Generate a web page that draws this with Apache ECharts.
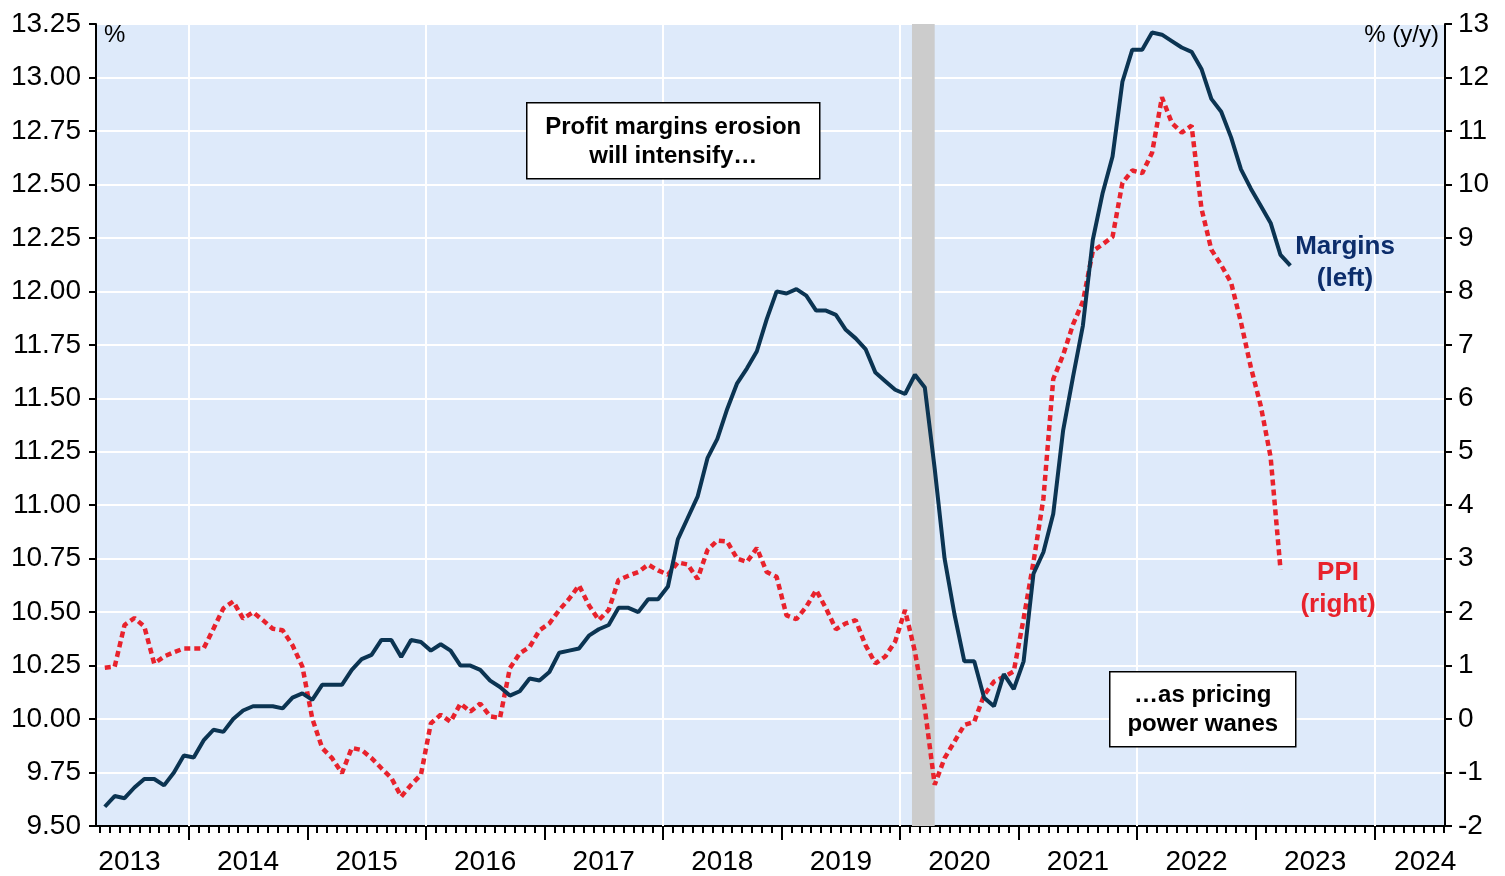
<!DOCTYPE html>
<html>
<head>
<meta charset="utf-8">
<script src="https://cdn.jsdelivr.net/npm/echarts@6/dist/echarts.min.js"></script>
<style>
  html, body { margin: 0; padding: 0; background: #fff; }
  #main { width: 1505px; height: 876px; }
</style>
</head>
<body>
<div id="main"></div>
<script>
// monthly observations, first one is Apr 2013 (month index 3, Jan 2013 = 0)
const firstMonth = 3

// profit margins, % (left axis)
const margins = [
  9.59, 9.64, 9.63, 9.68, 9.72, 9.72, 9.69, 9.75, 9.83,
  9.82, 9.90, 9.95, 9.94, 10.00, 10.04, 10.06, 10.06, 10.06, 10.05, 10.10, 10.12,
  10.09, 10.16, 10.16, 10.16, 10.23, 10.28, 10.30, 10.37, 10.37, 10.29, 10.37, 10.36,
  10.32, 10.35, 10.32, 10.25, 10.25, 10.23, 10.18, 10.15, 10.11, 10.13, 10.19, 10.18,
  10.22, 10.31, 10.32, 10.33, 10.39, 10.42, 10.44, 10.52, 10.52, 10.50, 10.56, 10.56,
  10.62, 10.84, 10.94, 11.04, 11.22, 11.31, 11.45, 11.57, 11.64, 11.72, 11.87, 12.00,
  11.99, 12.01, 11.98, 11.91, 11.91, 11.89, 11.82, 11.78, 11.73, 11.62, 11.58, 11.54,
  11.52, 11.61, 11.55, 11.17, 10.75, 10.49, 10.27, 10.27, 10.10, 10.06, 10.21, 10.14,
  10.27, 10.68, 10.78, 10.96, 11.35, 11.60, 11.84, 12.24, 12.46, 12.63, 12.98, 13.13,
  13.13, 13.21, 13.20, 13.17, 13.14, 13.12, 13.04, 12.90, 12.84, 12.72, 12.57, 12.48,
  12.40, 12.32, 12.17, 12.12
]

// PPI, % y/y (right axis)
const ppi = [
  0.96, 0.98, 1.76, 1.89, 1.73, 1.04, 1.17, 1.25, 1.32,
  1.32, 1.32, 1.69, 2.07, 2.20, 1.88, 2.00, 1.85, 1.69, 1.66, 1.38, 0.98,
  0.01, -0.54, -0.73, -1.01, -0.54, -0.58, -0.73, -0.92, -1.10, -1.45, -1.23, -1.04,
  -0.08, 0.08, -0.05, 0.29, 0.14, 0.29, 0.05, 0.02, 0.95, 1.23, 1.35, 1.66,
  1.79, 2.04, 2.25, 2.50, 2.13, 1.85, 2.04, 2.60, 2.68, 2.75, 2.89, 2.78,
  2.70, 2.93, 2.89, 2.62, 3.16, 3.34, 3.32, 3.00, 2.94, 3.20, 2.75, 2.66,
  1.94, 1.87, 2.10, 2.41, 2.07, 1.68, 1.79, 1.85, 1.38, 1.04, 1.17, 1.45,
  2.04, 1.26, 0.20, -1.23, -0.73, -0.42, -0.11, -0.05, 0.45, 0.70, 0.79, 0.89,
  1.88, 2.94, 4.12, 6.36, 6.81, 7.38, 7.81, 8.75, 8.88, 9.02, 10.03, 10.26,
  10.21, 10.59, 11.63, 11.15, 10.97, 11.10, 9.55, 8.78, 8.49, 8.16, 7.42, 6.58,
  5.86, 4.90, 2.80
]

const years = ['2013', '2014', '2015', '2016', '2017', '2018', '2019', '2020', '2021', '2022', '2023', '2024']
const recession = ['2020-02', '2020-04']

// month index helpers (value axis counted in months from Jan 2013)
const monthOf = s => (parseInt(s.slice(0, 4)) - 2013) * 12 + parseInt(s.slice(5, 7)) - 1
const xMin = 2.61
const xMax = 139.15
const toPoints = arr => arr.map((v, i) => [firstMonth + i + 0.5, v])

const yearTicks = years.slice(1).map((y, i) => (i + 1) * 12)
const monthTicks = []
for (let m = Math.ceil(xMin); m <= xMax; m++) monthTicks.push(m)
const labelPos = years.map((y, i) => Math.min(i * 12 + 6, xMax - 2))
const gridYears = yearTicks.filter((v, i) => i % 2 === 0)

const FONT = 'Liberation Sans, Arial, sans-serif'
const chart = echarts.init(document.getElementById('main'))

const option = {
  animation: false,
  grid: {
    left: 96, right: 60, top: 24, bottom: 48,
    show: true,
    backgroundColor: '#DEEAFA',
    borderWidth: 0
  },
  xAxis: [
    {
      type: 'value',
      min: xMin,
      max: xMax,
      position: 'bottom',
      axisLine: { show: true, onZero: false, lineStyle: { color: '#000', width: 2 } },
      axisTick: { show: true, customValues: yearTicks, length: 14, lineStyle: { color: '#000', width: 2 } },
      axisLabel: {
        customValues: labelPos,
        formatter: v => years[Math.floor(v / 12)],
        fontSize: 28,
        fontFamily: FONT,
        color: '#000',
        margin: 22
      },
      splitLine: { show: false }
    },
    {
      type: 'value',
      min: xMin,
      max: xMax,
      position: 'bottom',
      axisLine: { show: false, onZero: false },
      axisTick: { show: true, customValues: monthTicks, length: 7, lineStyle: { color: '#000', width: 2 } },
      axisLabel: { show: false },
      splitLine: { show: false }
    }
  ],
  yAxis: [
    {
      type: 'value',
      min: 9.5,
      max: 13.25,
      interval: 0.25,
      position: 'left',
      axisLine: { show: true, lineStyle: { color: '#000', width: 2 } },
      axisTick: { show: true, length: 7, lineStyle: { color: '#000', width: 2 } },
      axisLabel: { formatter: v => v.toFixed(2), fontSize: 28, fontFamily: FONT, color: '#000', margin: 15 },
      splitLine: { show: true, lineStyle: { color: '#fff', width: 2 } }
    },
    {
      type: 'value',
      min: -2,
      max: 13,
      interval: 1,
      position: 'right',
      axisLine: { show: true, lineStyle: { color: '#000', width: 2 } },
      axisTick: { show: true, length: 7, lineStyle: { color: '#000', width: 2 } },
      axisLabel: { fontSize: 28, fontFamily: FONT, color: '#000', margin: 13 },
      splitLine: { show: false }
    }
  ],
  series: [
    {
      // background marks: year gridlines and recession band
      type: 'line',
      data: [],
      z: 1,
      silent: true,
      markLine: {
        z: 1,
        silent: true,
        symbol: ['none', 'none'],
        label: { show: false },
        lineStyle: { color: '#fff', width: 2, type: 'solid' },
        data: gridYears.map(v => ({ xAxis: v }))
      },
      markArea: {
        z: 1,
        silent: true,
        itemStyle: { color: '#CCCCCC' },
        data: [[{ xAxis: monthOf(recession[0]) + 0.2 }, { xAxis: monthOf(recession[1]) + 0.5 }]]
      }
    },
    {
      name: 'PPI',
      type: 'line',
      yAxisIndex: 1,
      data: toPoints(ppi),
      showSymbol: false,
      z: 3,
      lineStyle: { color: '#E8222C', width: 4.5, type: [6, 4] }
    },
    {
      name: 'Margins',
      type: 'line',
      yAxisIndex: 0,
      data: toPoints(margins),
      showSymbol: false,
      z: 4,
      lineStyle: { color: '#0B3452', width: 4 }
    }
  ],
  graphic: [
    { type: 'text', z: 100, left: 104, top: 23, style: { text: '%', font: '24px ' + FONT, fill: '#000' } },
    { type: 'text', z: 100, right: 66, top: 23, style: { text: '% (y/y)', font: '24px ' + FONT, fill: '#000' } },
    {
      type: 'group', z: 100, left: 526, top: 102,
      children: [
        { type: 'rect', z: 100, shape: { x: 0, y: 0, width: 293, height: 76 }, style: { fill: '#fff', stroke: '#000', lineWidth: 1.5 } },
        { type: 'text', z: 101, x: 146.5, y: 39, style: { text: 'Profit margins erosion\nwill intensify…', font: 'bold 24px ' + FONT, fill: '#000', align: 'center', verticalAlign: 'middle', lineHeight: 29 } }
      ]
    },
    {
      type: 'group', z: 100, left: 1109, top: 671,
      children: [
        { type: 'rect', z: 100, shape: { x: 0, y: 0, width: 186, height: 75 }, style: { fill: '#fff', stroke: '#000', lineWidth: 1.5 } },
        { type: 'text', z: 101, x: 93, y: 38, style: { text: '…as pricing\npower wanes', font: 'bold 24px ' + FONT, fill: '#000', align: 'center', verticalAlign: 'middle', lineHeight: 29 } }
      ]
    },
    { type: 'text', z: 100, x: 1345, y: 263, style: { text: 'Margins\n(left)', font: 'bold 26px ' + FONT, fill: '#0C2D6B', align: 'center', verticalAlign: 'middle', lineHeight: 32 } },
    { type: 'text', z: 100, x: 1338, y: 589, style: { text: 'PPI\n(right)', font: 'bold 26px ' + FONT, fill: '#E8222C', align: 'center', verticalAlign: 'middle', lineHeight: 32 } }
  ]
}

chart.setOption(option)
</script>
</body>
</html>
